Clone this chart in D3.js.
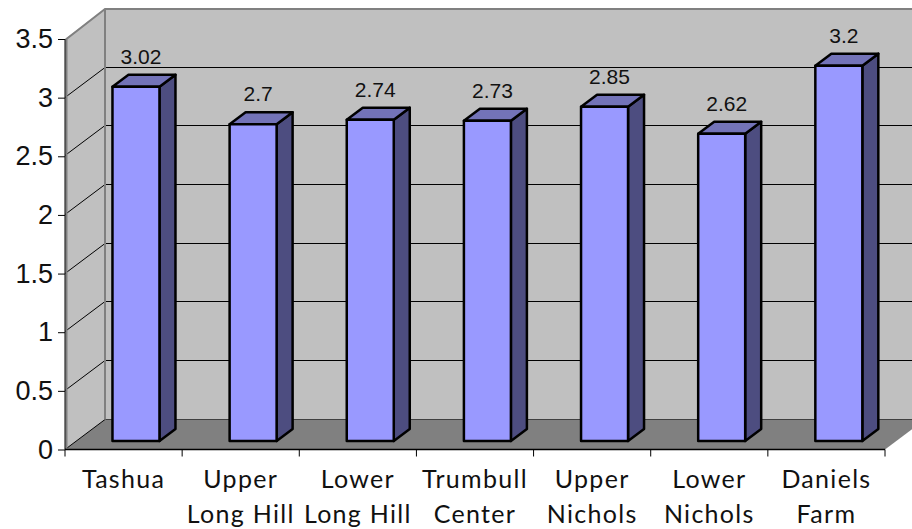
<!DOCTYPE html>
<html>
<head>
<meta charset="utf-8">
<script src="https://cdn.jsdelivr.net/npm/d3@7/dist/d3.min.js"></script>
<style>
html,body{margin:0;padding:0;background:#fff;overflow:hidden}
svg{display:block}
</style>
</head>
<body>
<svg id="chart" width="912" height="529"></svg>
<script>
const schools = [["Tashua"],["Upper","Long Hill"],["Lower","Long Hill"],["Trumbull","Center"],["Upper","Nichols"],["Lower","Nichols"],["Daniels","Farm"]];
const scores = [3.02,2.7,2.74,2.73,2.85,2.62,3.2];
const yTicks = [0,0.5,1,1.5,2,2.5,3,3.5];

const svg = d3.select("#chart");
const left = 65, right = 885, floorY = 449.5, topY = 39;
const wallDx = 40, wallDy = -30;      // oblique offset of the back wall
const barDx = 16, barDy = -12;        // oblique depth of each column
const inDx = 12.4, inDy = -8.5;       // columns stand this far behind the front edge
const barW = 47;

const x = d3.scaleBand().domain(d3.range(schools.length)).range([left,right]);
const y = d3.scaleLinear().domain([0,3.5]).range([floorY,topY]);
const poly = pts => pts.map(p=>p.join(",")).join(" ");

// Walls and floor
svg.append("polygon").attr("points",poly([[left+wallDx,floorY+wallDy],[right+wallDx,floorY+wallDy],[right+wallDx,topY+wallDy],[left+wallDx,topY+wallDy]])).attr("fill","#c0c0c0");
svg.append("polygon").attr("points",poly([[left,floorY],[left+wallDx,floorY+wallDy],[left+wallDx,topY+wallDy],[left,topY]])).attr("fill","#c0c0c0");
svg.append("polygon").attr("points",poly([[left,floorY],[right,floorY],[right+wallDx,floorY+wallDy],[left+wallDx,floorY+wallDy]])).attr("fill","#808080");

// Gridlines run across the side wall and the back wall
yTicks.filter(t=>t>0 && t<3.5).forEach(t=>{
  const py = Math.round(y(t))-0.5;
  svg.append("polyline").attr("points",poly([[left,py],[left+wallDx,py+wallDy],[right+wallDx,py+wallDy]]))
    .attr("fill","none").attr("stroke","#000").attr("stroke-width",1);
});
svg.append("line").attr("x1",left).attr("y1",floorY).attr("x2",left+wallDx).attr("y2",floorY+wallDy).attr("stroke","#000").attr("stroke-width",1);
svg.append("line").attr("x1",left+wallDx).attr("y1",floorY+wallDy).attr("x2",right+wallDx).attr("y2",floorY+wallDy).attr("stroke","#404040").attr("stroke-width",1);

// Wall edges
svg.append("polyline").attr("points",poly([[left+1.5,floorY],[left+1.5,topY],[left+wallDx,topY+wallDy],[right+wallDx,topY+wallDy]]))
  .attr("fill","none").attr("stroke","#808080").attr("stroke-width",2);
svg.append("line").attr("x1",left+wallDx).attr("y1",topY+wallDy).attr("x2",left+wallDx).attr("y2",floorY+wallDy).attr("stroke","#808080").attr("stroke-width",2);

// Columns
const cols = svg.append("g").selectAll("g").data(scores).join("g");
const fx = (d,i) => x(i)+x.bandwidth()/2+inDx-barW/2;
const fy = d => y(d)+inDy;
const base = floorY+inDy;
cols.each(function(d,i){
  const g = d3.select(this), x0 = fx(d,i), x1 = x0+barW, t = fy(d);
  const stroke = s => s.attr("stroke","#000").attr("stroke-width",2.5).attr("stroke-linejoin","round");
  g.append("polygon").attr("points",poly([[x1,t],[x1+barDx,t+barDy],[x1+barDx,base+barDy],[x1,base]])).attr("fill","#4d4d80").call(stroke);
  g.append("polygon").attr("points",poly([[x0,t],[x0+barDx,t+barDy],[x1+barDx,t+barDy],[x1,t]])).attr("fill","#7373b8").call(stroke);
  g.append("rect").attr("x",x0).attr("y",t).attr("width",barW).attr("height",base-t).attr("fill","#9999ff").call(stroke);
  g.append("text").attr("x",x0+barW/2+5).attr("y",t-23)
    .attr("text-anchor","middle").attr("font-family","'Liberation Sans',Arial,sans-serif").attr("font-size",21).attr("fill","#111")
    .text(d);
});

// Value axis
const yAxis = d3.axisLeft(y).tickValues(yTicks).tickSize(7).tickPadding(5).tickFormat(d=>d);
const gy = svg.append("g").attr("transform",`translate(${left},0)`).call(yAxis);
gy.select(".domain").attr("d",`M0,${topY}V${floorY}`).attr("stroke","#000").attr("stroke-width",1);
gy.selectAll("line").attr("stroke","#000");
gy.selectAll("text").attr("font-family","'Liberation Sans',Arial,sans-serif").attr("font-size",27).attr("fill","#111");

// Category axis with two-line labels
const xAxis = d3.axisBottom(x).tickSize(0).tickFormat("");
const gx = svg.append("g").attr("transform",`translate(0,${floorY})`).call(xAxis);
gx.select(".domain").attr("d",`M${left},0H${right}`).attr("stroke","#000").attr("stroke-width",1.5);
gx.selectAll(".tick").remove();
d3.range(schools.length+1).forEach(i=>{
  const px = left+i*x.bandwidth();
  gx.append("line").attr("x1",px).attr("x2",px).attr("y1",0).attr("y2",7).attr("stroke","#000");
});
schools.forEach((lines,i)=>{
  lines.forEach((s,j)=>{
    svg.append("text").attr("x",x(i)+x.bandwidth()/2).attr("y",488+j*34.5)
      .attr("text-anchor","middle").attr("font-family","Lato,sans-serif").attr("font-size",25).attr("letter-spacing",1.3).attr("fill","#111")
      .text(s);
  });
});
</script>
</body>
</html>
